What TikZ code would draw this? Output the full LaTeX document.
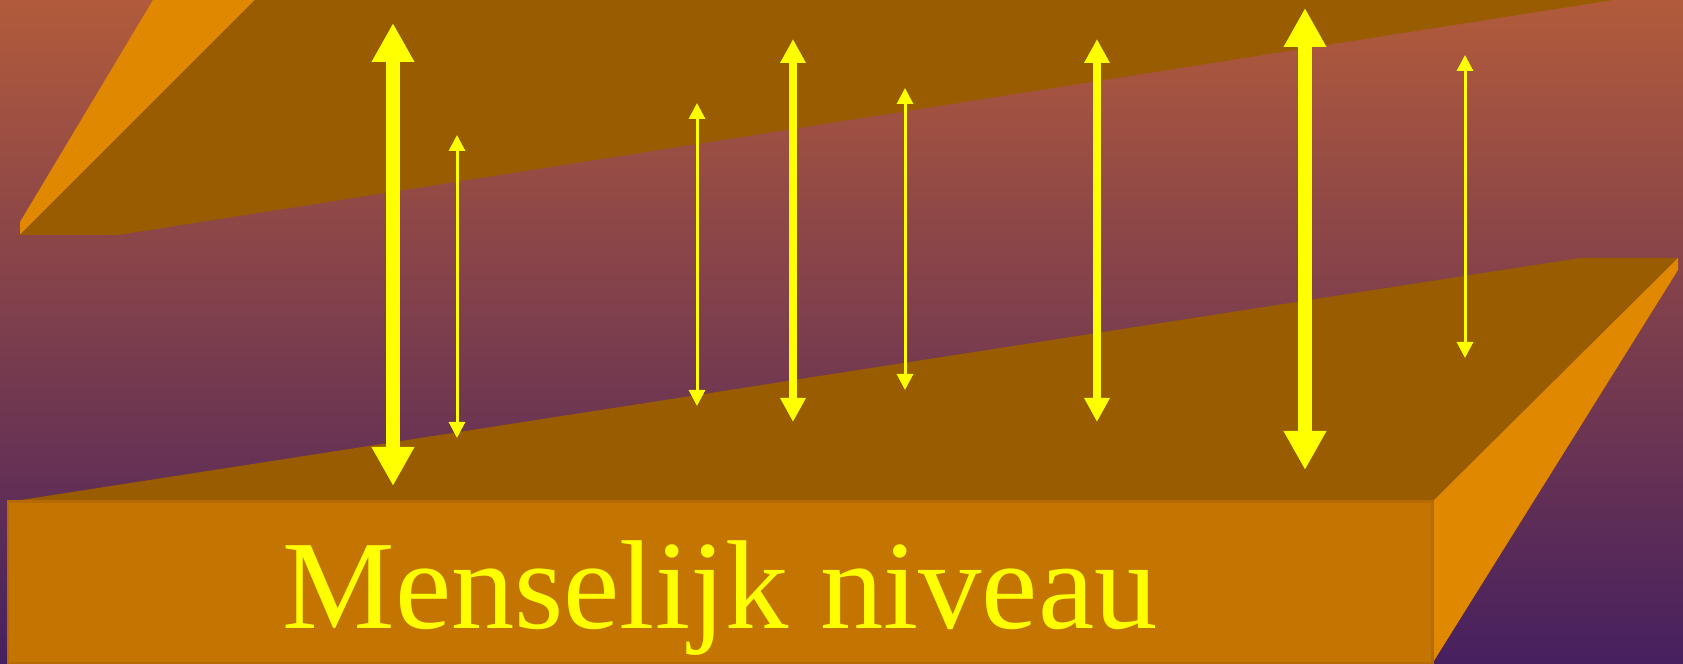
\documentclass[tikz,border=0pt]{standalone}
\usepackage{fontspec}
\newfontfamily\levelfont{Liberation Serif}
\usepackage{tikz}
\usetikzlibrary{arrows.meta, positioning}
\usepackage{xcolor}
\definecolor{bgtop}{HTML}{B25B3B}
\definecolor{bgmid}{HTML}{8C4550}
\definecolor{bgbottom}{HTML}{46205F}
\definecolor{slabtop}{HTML}{995C00}
\definecolor{slabside}{HTML}{E08800}
\definecolor{slabfront}{HTML}{C47400}
\definecolor{slabedge}{HTML}{B56B00}
\definecolor{levelyellow}{HTML}{FFFF00}

\tikzset{
  bigarrow/.style={draw=levelyellow, line width=1.4mm,
    {Triangle[length=3.9mm, width=4mm]}-{Triangle[length=3.9mm, width=4mm]}},
  midarrow/.style={draw=levelyellow, line width=0.85mm,
    {Triangle[length=2.4mm, width=2.4mm]}-{Triangle[length=2.4mm, width=2.4mm]}},
  thinarrow/.style={draw=levelyellow, line width=0.3mm,
    {Triangle[length=1.6mm, width=1.6mm]}-{Triangle[length=1.6mm, width=1.6mm]}},
}

\begin{document}
\begin{tikzpicture}[x=0.1mm, y=-0.1mm]
  \useasboundingbox (0,0) rectangle (1683,664);
  % background
  \shade[top color=bgtop, middle color=bgmid, bottom color=bgbottom]
    (0,0) rectangle (1683,664);

  % upper slab
  \fill[slabside] (153,0) -- (255,0) -- (20,235) -- (20,222) -- cycle;
  \fill[slabtop] (255,0) -- (1613,0) -- (118,235) -- (20,235) -- cycle;

  % lower slab
  \fill[slabtop] (1580,258) -- (1678,258) -- (1432,502) -- (8,502) -- cycle;
  \fill[slabside] (1678,258) -- (1678,270) -- (1432,664) -- (1432,502) -- cycle;
  \fill[slabfront, draw=slabedge, line width=0.3mm] (8,502) rectangle (1432,664);

  \node[font=\levelfont\fontsize{36}{40}\selectfont, text=levelyellow,
        anchor=base, inner sep=0pt] (level) at (720,629) {Menselijk niveau};

  % arrows between the two slabs
  \foreach \name/\x/\ytop/\ybot/\kind in {
      a/393/23/486/bigarrow, b/457/135/438/thinarrow,
      c/697/103/406/thinarrow, d/793/39/422/midarrow,
      e/905/88/390/thinarrow, f/1097/39/422/midarrow,
      g/1305/8/470/bigarrow, h/1465/55/358/thinarrow} {
    \coordinate (\name-top) at (\x,\ytop);
    \coordinate (\name-bot) at (\x,\ybot);
    \draw[\kind] (\name-top) -- (\name-bot);
  }
\end{tikzpicture}
\end{document}
